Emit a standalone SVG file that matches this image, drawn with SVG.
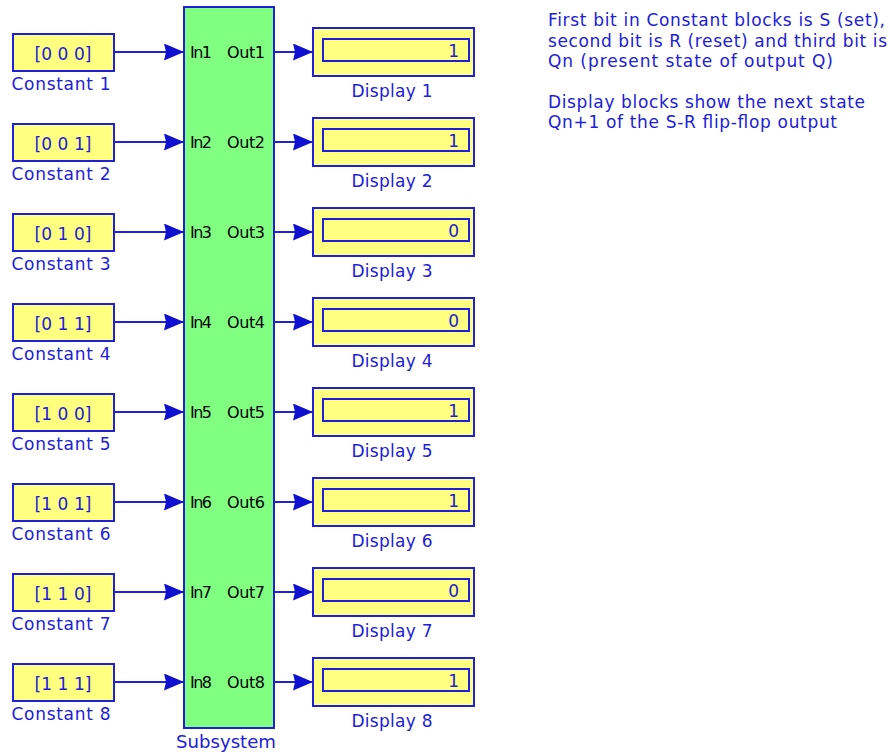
<svg xmlns="http://www.w3.org/2000/svg" width="890" height="754" viewBox="0 0 890 754">
<style>
.blk{fill:#ffff80;stroke:#2020d8;stroke-width:2}
.sub{fill:#80ff80;stroke:#2020d8;stroke-width:2}
.ln{stroke:#2020d8;stroke-width:2;fill:none}
.t{font-family:"DejaVu Sans",sans-serif;fill:#2020d8;font-size:17px}
.k{font-family:"DejaVu Sans",sans-serif;fill:#000;font-size:16px}
.lab{font-family:"DejaVu Sans",sans-serif;fill:#2020d8;font-size:17px;text-anchor:middle}
</style>
<defs>
<marker id="ah" markerUnits="userSpaceOnUse" markerWidth="21" markerHeight="18" refX="20" refY="8.5" orient="auto">
<path d="M0,0 L20,8.5 L0,17 L2,8.5 z" fill="#1010d0"/>
</marker>
</defs>
<g id="subsystem">
<rect class="sub" x="184" y="7" width="90" height="721"/>
<text class="lab" x="226" y="748" textLength="100" lengthAdjust="spacingAndGlyphs">Subsystem</text>
<text class="k" x="190" y="58" textLength="22">In1</text><text class="k" x="227" y="58" textLength="38">Out1</text>
<text class="k" x="190" y="148" textLength="22">In2</text><text class="k" x="227" y="148" textLength="38">Out2</text>
<text class="k" x="190" y="238" textLength="22">In3</text><text class="k" x="227" y="238" textLength="38">Out3</text>
<text class="k" x="190" y="328" textLength="22">In4</text><text class="k" x="227" y="328" textLength="38">Out4</text>
<text class="k" x="190" y="418" textLength="22">In5</text><text class="k" x="227" y="418" textLength="38">Out5</text>
<text class="k" x="190" y="508" textLength="22">In6</text><text class="k" x="227" y="508" textLength="38">Out6</text>
<text class="k" x="190" y="598" textLength="22">In7</text><text class="k" x="227" y="598" textLength="38">Out7</text>
<text class="k" x="190" y="688" textLength="22">In8</text><text class="k" x="227" y="688" textLength="38">Out8</text>
</g>
<g id="connectors">
<line class="ln" x1="114" y1="52" x2="184" y2="52" marker-end="url(#ah)"/>
<line class="ln" x1="114" y1="142" x2="184" y2="142" marker-end="url(#ah)"/>
<line class="ln" x1="114" y1="232" x2="184" y2="232" marker-end="url(#ah)"/>
<line class="ln" x1="114" y1="322" x2="184" y2="322" marker-end="url(#ah)"/>
<line class="ln" x1="114" y1="412" x2="184" y2="412" marker-end="url(#ah)"/>
<line class="ln" x1="114" y1="502" x2="184" y2="502" marker-end="url(#ah)"/>
<line class="ln" x1="114" y1="592" x2="184" y2="592" marker-end="url(#ah)"/>
<line class="ln" x1="114" y1="682" x2="184" y2="682" marker-end="url(#ah)"/>
<line class="ln" x1="274" y1="52" x2="313" y2="52" marker-end="url(#ah)"/>
<line class="ln" x1="274" y1="142" x2="313" y2="142" marker-end="url(#ah)"/>
<line class="ln" x1="274" y1="232" x2="313" y2="232" marker-end="url(#ah)"/>
<line class="ln" x1="274" y1="322" x2="313" y2="322" marker-end="url(#ah)"/>
<line class="ln" x1="274" y1="412" x2="313" y2="412" marker-end="url(#ah)"/>
<line class="ln" x1="274" y1="502" x2="313" y2="502" marker-end="url(#ah)"/>
<line class="ln" x1="274" y1="592" x2="313" y2="592" marker-end="url(#ah)"/>
<line class="ln" x1="274" y1="682" x2="313" y2="682" marker-end="url(#ah)"/>
</g>
<g id="constant1"><rect class="blk" x="13" y="34" width="101" height="37"/><text class="lab" x="63" y="60" textLength="57">[0 0 0]</text><text class="lab" x="61" y="90" textLength="99">Constant 1</text></g>
<g id="constant2"><rect class="blk" x="13" y="124" width="101" height="37"/><text class="lab" x="63" y="150" textLength="57">[0 0 1]</text><text class="lab" x="61" y="180" textLength="99">Constant 2</text></g>
<g id="constant3"><rect class="blk" x="13" y="214" width="101" height="37"/><text class="lab" x="63" y="240" textLength="57">[0 1 0]</text><text class="lab" x="61" y="270" textLength="99">Constant 3</text></g>
<g id="constant4"><rect class="blk" x="13" y="304" width="101" height="37"/><text class="lab" x="63" y="330" textLength="57">[0 1 1]</text><text class="lab" x="61" y="360" textLength="99">Constant 4</text></g>
<g id="constant5"><rect class="blk" x="13" y="394" width="101" height="37"/><text class="lab" x="63" y="420" textLength="57">[1 0 0]</text><text class="lab" x="61" y="450" textLength="99">Constant 5</text></g>
<g id="constant6"><rect class="blk" x="13" y="484" width="101" height="37"/><text class="lab" x="63" y="510" textLength="57">[1 0 1]</text><text class="lab" x="61" y="540" textLength="99">Constant 6</text></g>
<g id="constant7"><rect class="blk" x="13" y="574" width="101" height="37"/><text class="lab" x="63" y="600" textLength="57">[1 1 0]</text><text class="lab" x="61" y="630" textLength="99">Constant 7</text></g>
<g id="constant8"><rect class="blk" x="13" y="664" width="101" height="37"/><text class="lab" x="63" y="690" textLength="57">[1 1 1]</text><text class="lab" x="61" y="720" textLength="99">Constant 8</text></g>
<g id="display1"><rect class="blk" x="313" y="28" width="161" height="48"/><rect class="blk" x="323" y="39" width="146" height="22"/><text class="t" x="459" y="57" text-anchor="end">1</text><text class="lab" x="392" y="97" textLength="81">Display 1</text></g>
<g id="display2"><rect class="blk" x="313" y="118" width="161" height="48"/><rect class="blk" x="323" y="129" width="146" height="22"/><text class="t" x="459" y="147" text-anchor="end">1</text><text class="lab" x="392" y="187" textLength="81">Display 2</text></g>
<g id="display3"><rect class="blk" x="313" y="208" width="161" height="48"/><rect class="blk" x="323" y="219" width="146" height="22"/><text class="t" x="459" y="237" text-anchor="end">0</text><text class="lab" x="392" y="277" textLength="81">Display 3</text></g>
<g id="display4"><rect class="blk" x="313" y="298" width="161" height="48"/><rect class="blk" x="323" y="309" width="146" height="22"/><text class="t" x="459" y="327" text-anchor="end">0</text><text class="lab" x="392" y="367" textLength="81">Display 4</text></g>
<g id="display5"><rect class="blk" x="313" y="388" width="161" height="48"/><rect class="blk" x="323" y="399" width="146" height="22"/><text class="t" x="459" y="417" text-anchor="end">1</text><text class="lab" x="392" y="457" textLength="81">Display 5</text></g>
<g id="display6"><rect class="blk" x="313" y="478" width="161" height="48"/><rect class="blk" x="323" y="489" width="146" height="22"/><text class="t" x="459" y="507" text-anchor="end">1</text><text class="lab" x="392" y="547" textLength="81">Display 6</text></g>
<g id="display7"><rect class="blk" x="313" y="568" width="161" height="48"/><rect class="blk" x="323" y="579" width="146" height="22"/><text class="t" x="459" y="597" text-anchor="end">0</text><text class="lab" x="392" y="637" textLength="81">Display 7</text></g>
<g id="display8"><rect class="blk" x="313" y="658" width="161" height="48"/><rect class="blk" x="323" y="669" width="146" height="22"/><text class="t" x="459" y="687" text-anchor="end">1</text><text class="lab" x="392" y="727" textLength="81">Display 8</text></g>
<g id="note">
<text class="t" x="548" y="26" textLength="337">First bit in Constant blocks is S (set),</text>
<text class="t" x="548" y="47" textLength="339">second bit is R (reset) and third bit is</text>
<text class="t" x="548" y="67" textLength="285">Qn (present state of output Q)</text>
<text class="t" x="548" y="108" textLength="317">Display blocks show the next state</text>
<text class="t" x="548" y="128" textLength="289">Qn+1 of the S-R flip-flop output</text>
</g>
</svg>
